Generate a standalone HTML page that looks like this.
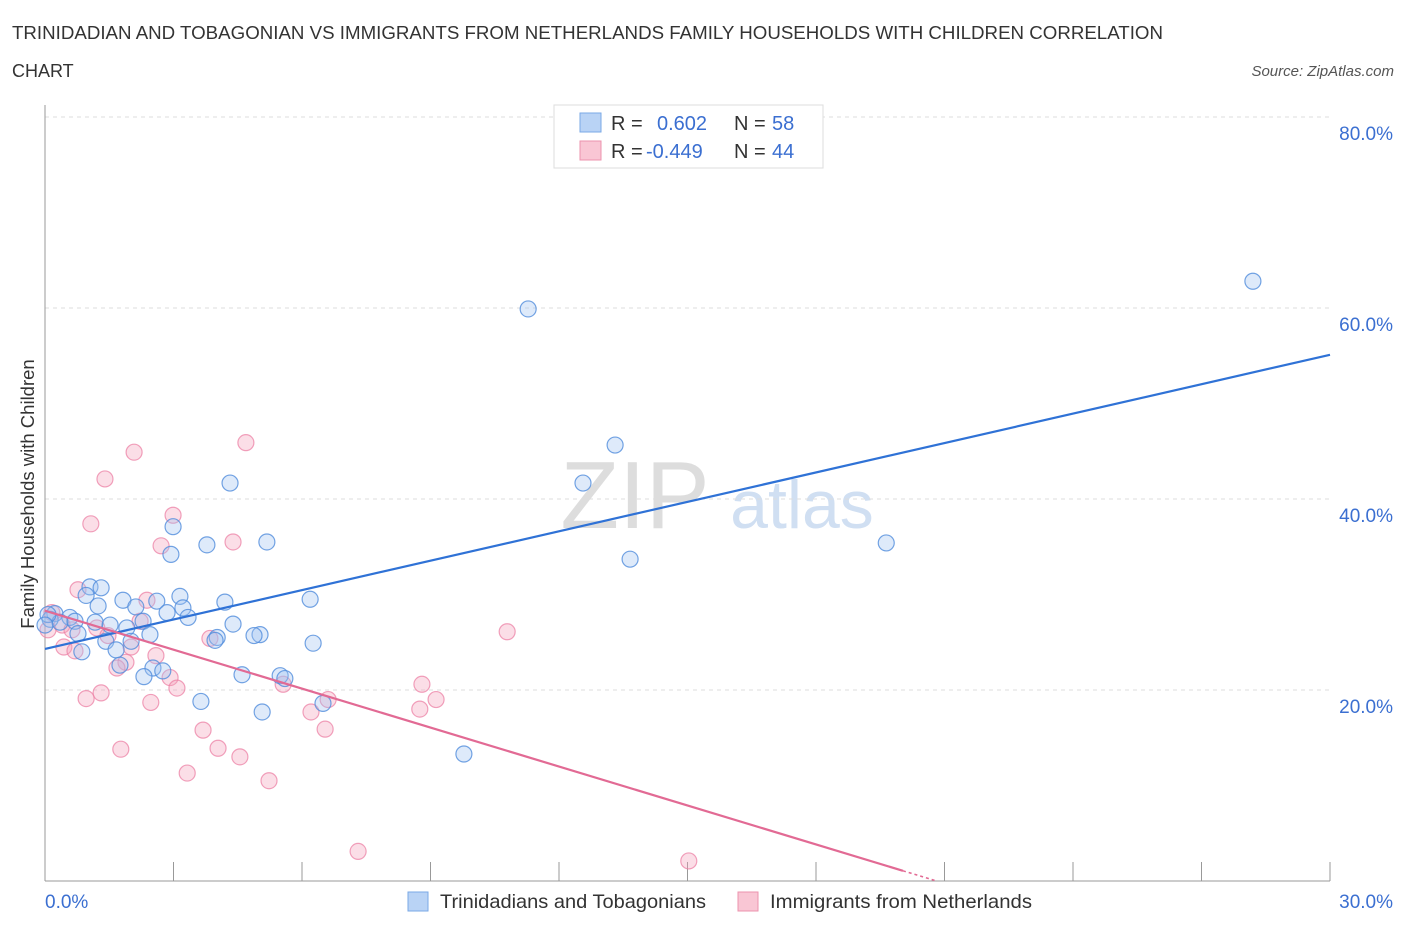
<!DOCTYPE html>
<html><head><meta charset="utf-8"><style>
body{margin:0;background:#fff;font-family:"Liberation Sans",sans-serif}
svg text{font-family:"Liberation Sans",sans-serif}
</style></head><body>
<svg id="chart" width="1406" height="930">
<text x="12" y="39" font-size="18" fill="#333" textLength="1151" lengthAdjust="spacingAndGlyphs">TRINIDADIAN AND TOBAGONIAN VS IMMIGRANTS FROM NETHERLANDS FAMILY HOUSEHOLDS WITH CHILDREN CORRELATION</text>
<text x="12" y="77" font-size="18" fill="#333">CHART</text>
<text x="1394" y="76" font-size="15" fill="#555" font-style="italic" text-anchor="end">Source: ZipAtlas.com</text>
<text x="635" y="528" font-size="96" fill="#ddd" font-family="Liberation Serif" text-anchor="middle">ZIP</text>
<text x="802" y="528" font-size="68" fill="#d0dff2" text-anchor="middle">atlas</text>
<text transform="translate(34,494) rotate(-90)" font-size="18.5" fill="#333" text-anchor="middle">Family Households with Children</text>
<g id="grid"></g><g id="axes"></g><g id="pts"></g><g id="lines"></g>
<g>
<rect x="554" y="105" width="269" height="63" fill="#fff" stroke="#ddd"/>
<rect x="580" y="113" width="21" height="19" fill="#b9d3f5" stroke="#7aa8e6"/>
<rect x="580" y="141" width="21" height="19" fill="#f9c6d4" stroke="#ec93ae"/>
<text x="611" y="130" font-size="20" fill="#333">R =</text>
<text x="657" y="130" font-size="20" fill="#3b6fd1">0.602</text>
<text x="734" y="130" font-size="20" fill="#333">N =</text>
<text x="772" y="130" font-size="20" fill="#3b6fd1">58</text>
<text x="611" y="158" font-size="20" fill="#333">R =</text>
<text x="646" y="158" font-size="20" fill="#3b6fd1">-0.449</text>
<text x="734" y="158" font-size="20" fill="#333">N =</text>
<text x="772" y="158" font-size="20" fill="#3b6fd1">44</text>
</g>
<g>
<rect x="408" y="892" width="20" height="19" fill="#b9d3f5" stroke="#7aa8e6"/>
<text x="440" y="908" font-size="19.5" fill="#333" textLength="266" lengthAdjust="spacingAndGlyphs">Trinidadians and Tobagonians</text>
<rect x="738" y="892" width="20" height="19" fill="#f9c6d4" stroke="#ec93ae"/>
<text x="770" y="908" font-size="19.5" fill="#333" textLength="262" lengthAdjust="spacingAndGlyphs">Immigrants from Netherlands</text>
</g>
</svg>
<script>
const blueX=[28.2,11.28,13.31,12.56,4.32,13.66,19.64,2.99,2.94,3.78,5.18,1.05,1.31,0.96,1.82,2.61,3.15,4.20,6.19,1.24,2.12,3.22,2.85,3.34,0.23,0.58,0.12,0.35,0.70,1.17,1.52,1.91,2.29,4.39,5.02,4.88,2.45,4.02,3.97,0.77,1.42,2.01,6.26,0.86,1.66,1.75,2.52,2.75,2.31,4.60,5.49,5.60,3.64,5.07,6.49,9.78,0.07,0.0];
const blueY=[62.8,59.9,45.65,41.67,41.67,33.7,35.4,37.1,34.2,35.2,35.5,30.8,30.7,29.9,29.4,29.3,29.8,29.2,29.5,28.8,28.7,28.6,28.1,27.6,28.0,27.6,27.4,27.1,27.2,27.1,26.8,26.5,27.2,26.9,25.8,25.7,25.8,25.5,25.2,25.9,25.1,25.1,24.9,24.0,24.2,22.6,22.3,22.0,21.4,21.6,21.5,21.2,18.8,17.7,18.6,13.3,27.9,26.8];
const pinkX=[4.69,2.08,1.40,1.07,2.99,4.39,2.71,0.77,2.38,2.22,0.16,0.40,0.07,1.21,0.63,10.79,1.47,3.85,2.01,0.44,0.70,2.59,1.89,1.68,2.92,3.08,5.56,8.80,1.31,0.96,2.47,6.61,9.13,6.21,8.75,6.54,3.69,1.77,4.04,4.55,3.32,5.23,7.31,15.03];
const pinkY=[45.9,44.9,42.1,37.4,38.3,35.5,35.1,30.5,29.4,27.2,28.1,26.8,26.3,26.5,26.3,26.1,25.7,25.4,24.5,24.5,24.1,23.6,22.9,22.3,21.3,20.2,20.6,20.6,19.7,19.1,18.7,19.0,19.0,17.7,18.0,15.9,15.8,13.8,13.9,13.0,11.3,10.5,3.1,2.1];
const blueTrend=[24.3,55.1]; // y at x=0 and x=30
const pinkTrend=[28.3,-1.3595]; // intercept, slope
const yTicks=[20,40,60,80];
const yTickLabels=["20.0%","40.0%","60.0%","80.0%"];
const xTickLabels=["0.0%","30.0%"];
const NS="http://www.w3.org/2000/svg";
const sx=v=>45+v/30*1285, sy=v=>881-v/20*191;
function mk(p,t,a){const e=document.createElementNS(NS,t);for(const k in a)e.setAttribute(k,a[k]);document.getElementById(p).appendChild(e);return e;}
yTicks.forEach((t,i)=>{
 const g=mk('grid','line',{x1:45,x2:1330,y1:sy(t),y2:sy(t),stroke:'#ddd','stroke-dasharray':'4,4'});
 
 
 const l=mk('grid','text',{x:1393,y:sy(t)+23,'font-size':19,fill:'#3b6fd1','text-anchor':'end'});
 l.textContent=yTickLabels[i];
 
 
});
const ax=mk('axes','line',{x1:45,x2:45,y1:105,y2:881,stroke:'#999'});


const bx=mk('axes','line',{x1:45,x2:1330,y1:881,y2:881,stroke:'#999'});


for(let i=0;i<=10;i++){const t=mk('axes','line',{x1:sx(i*3),x2:sx(i*3),y1:862,y2:881,stroke:'#999'});
 
 }
[[0,'start',45],[30,'end',1393]].forEach((d,i)=>{const l=mk('axes','text',{x:d[2],y:908,'font-size':19,fill:'#3b6fd1','text-anchor':d[1]});l.textContent=xTickLabels[i];
 
 });
pinkX.forEach((x,i)=>{const c=mk('pts','circle',{cx:sx(x),cy:sy(pinkY[i]),r:8,fill:'rgba(244,160,186,0.35)',stroke:'rgba(236,130,165,0.75)','stroke-width':1.2});
 
 });
blueX.forEach((x,i)=>{const c=mk('pts','circle',{cx:sx(x),cy:sy(blueY[i]),r:8,fill:'rgba(160,195,240,0.35)',stroke:'rgba(80,140,220,0.8)','stroke-width':1.2});
 
 });
const bl=mk('lines','line',{x1:sx(0),y1:sy(blueTrend[0]),x2:sx(30),y2:sy(blueTrend[1]),stroke:'#2f72d6','stroke-width':2.2});


const xe=20.03, x0=-pinkTrend[0]/pinkTrend[1];
const pl=mk('lines','line',{x1:sx(0),y1:sy(pinkTrend[0]),x2:sx(xe),y2:sy(pinkTrend[0]+pinkTrend[1]*xe),stroke:'#e26a94','stroke-width':2.2});


const pd=mk('lines','line',{x1:sx(xe),y1:sy(pinkTrend[0]+pinkTrend[1]*xe),x2:sx(x0),y2:sy(0),stroke:'#e26a94','stroke-width':1.5,'stroke-dasharray':'3,3'});


</script>
</body></html>
